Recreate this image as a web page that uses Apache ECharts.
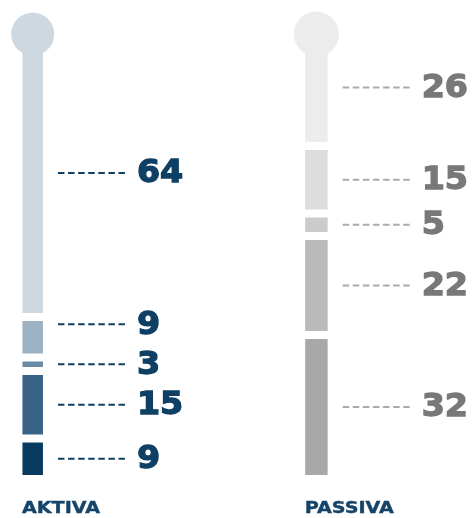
<!DOCTYPE html>
<html>
<head>
<meta charset="utf-8">
<script src="https://cdn.jsdelivr.net/npm/echarts@6/dist/echarts.min.js"></script>
<style>
  html, body { margin: 0; padding: 0; background: #ffffff; }
  #chart { width: 474px; height: 518px; }
</style>
</head>
<body>
<div id="chart"></div>
<script>
// Balance sheet structure, segments listed bottom to top
const categories = ['AKTIVA', 'PASSIVA'];
const aktiva = [9, 15, 3, 9, 64];
const passiva = [32, 22, 5, 15, 26];

const columns = [aktiva, passiva];

// Styling per column
const segmentColors = [
  ['#083b5f', '#386386', '#6c8ba3', '#9cb2c2', '#cdd8e1'],
  ['#a8a8a8', '#bababa', '#cbcbcb', '#dcdcdc', '#ececec']
];
const numberColors = ['#0e3f64', '#787878'];
const dashColors = ['#0e3f64', '#aaaaaa'];
const titleColors = ['#154468', '#154468'];
const barWidths = [20.5, 22.5];
const bulbRadii = [21.5, 22.5];
const GAP = 8;            // white gap above each segment
const MIN_LABEL_STEP = 40; // minimum vertical distance between value labels

const total = Math.max(...columns.map(c => c.reduce((a, b) => a + b, 0)));

function renderColumn(params, api) {
  const ci = params.dataIndex;
  const vals = columns[ci];
  const colors = segmentColors[ci];
  const w = barWidths[ci];
  const x = api.coord([ci, 0])[0];
  const yBase = api.coord([ci, 0])[1];
  const children = [];

  let cum = 0;
  const centers = [];
  let topY = yBase;
  vals.forEach((v, i) => {
    const y0 = api.coord([ci, cum])[1];
    const y1 = api.coord([ci, cum + v])[1];
    children.push({
      type: 'rect',
      shape: { x: x - w / 2, y: y1 + GAP, width: w, height: y0 - y1 - GAP },
      style: { fill: colors[i] }
    });
    centers.push((y0 + y1 + GAP) / 2);
    cum += v;
    topY = y1;
  });

  // bulb on top of the column
  children.push({
    type: 'circle',
    shape: { cx: x, cy: topY + 9, r: bulbRadii[ci] },
    style: { fill: colors[colors.length - 1] }
  });

  // keep value labels apart, working upward from the bottom
  const labelY = centers.slice();
  for (let i = 1; i < labelY.length; i++) {
    if (labelY[i - 1] - labelY[i] < MIN_LABEL_STEP) {
      labelY[i] = labelY[i - 1] - MIN_LABEL_STEP;
    }
  }

  const edge = x + w / 2;
  vals.forEach((v, i) => {
    children.push({
      type: 'line',
      shape: { x1: edge + 15, y1: labelY[i], x2: edge + 82, y2: labelY[i] },
      style: { stroke: dashColors[ci], lineWidth: 2, lineDash: [6.5, 3.6] }
    });
    children.push({
      type: 'text',
      x: edge + 94,
      y: labelY[i] + 1,
      scaleX: 1.04,
      style: {
        x: 0,
        y: 0,
        text: String(v),
        fill: numberColors[ci],
        stroke: numberColors[ci],
        lineWidth: 1.3,
        font: 'bold 32px "DejaVu Sans"',
        align: 'left',
        verticalAlign: 'middle'
      }
    });
  });

  // column title under the bar
  children.push({
    type: 'text',
    x: x - w / 2 - 0.5,
    y: yBase + 34,
    scaleX: 1.16,
    style: {
      x: 0,
      y: 0,
      text: categories[ci],
      fill: titleColors[ci],
      stroke: titleColors[ci],
      lineWidth: 0.4,
      font: 'bold 16.5px "DejaVu Sans"',
      align: 'left',
      verticalAlign: 'middle'
    }
  });

  return { type: 'group', children };
}

const chart = echarts.init(document.getElementById('chart'), null, { renderer: 'canvas' });
chart.setOption({
  animation: false,
  backgroundColor: '#ffffff',
  grid: { left: 32.7, right: 157.6, top: 25, bottom: 43 },
  xAxis: {
    type: 'category',
    data: categories,
    boundaryGap: false,
    show: false
  },
  yAxis: {
    type: 'value',
    min: 0,
    max: total,
    show: false
  },
  series: [{
    type: 'custom',
    clip: false,
    renderItem: renderColumn,
    data: categories.map((c, i) => [i, columns[i].reduce((a, b) => a + b, 0)])
  }]
});
</script>
</body>
</html>
